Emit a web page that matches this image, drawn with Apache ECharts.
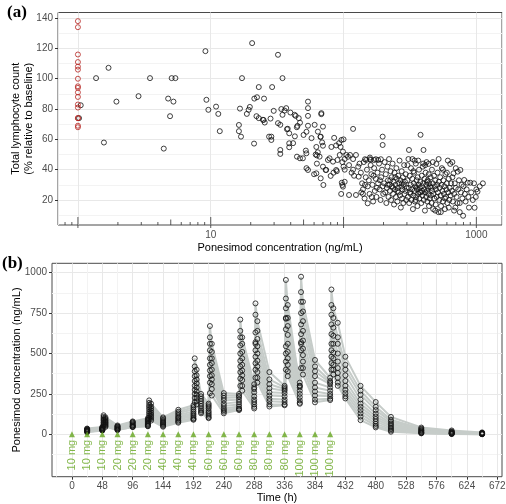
<!DOCTYPE html>
<html><head><meta charset="utf-8">
<script src="https://cdn.jsdelivr.net/npm/echarts@6/dist/echarts.min.js"></script>
<style>html,body{margin:0;padding:0;background:#fff}#c{width:506px;height:504px}</style>
</head><body><div id="c"></div>
<script>
// ---------- Panel (a): lymphocyte count vs concentration ----------
const blqConc = 1;
const blqLymph = [138,134,116,111,108,106,100,95,94,91,88,83,81,74,74,69,68];
const lymphLeft = [
 [1.05,82.5],[1.02,74],[1.37,100.4],[1.57,57.9],[1.70,107.2],[1.95,84.9],[2.86,88.5],[3.49,100.4],[4.43,53.9],
 [4.78,86.9],[4.94,75.3],[5.08,100.4],[5.24,84.9],[5.42,100.4],[9.12,118.2],[9.28,86.1],[9.6,79.5],[10.97,81.6],
 [11.4,76.8],[11.7,65.4],[16.3,69.5],[16.3,65.4],[16.6,80.3],[16.9,61.8],[17.2,100.4],[18.7,76.8],[19.3,79.5],
 [19.7,81.4],[20.5,123.5],[21.2,57.2],[21.3,86.9],[22.1,75.3],[23,94.5],[22.3,87.8],[23,74],[24.7,72.9],[25.5,71.1],
 [25.2,86.9],[27.5,61.8]
];
const lymphMid = [
 [32.1,115.8],[34.7,100.4],[29,94.5],[29.8,78.8],[34,80],[36,79],[37,80.6],[39.8,77.7],[42.8,76.2],[43.6,75.5],
 [46,74],[47,71],[25,72.8],[28.2,73.7],[32.1,70.7],[33.4,69.6],[34.7,76.2],[37.5,66.7],[39,64],[38,67],[43,62],
 [44.5,68],[54,84.9],[54,80.6],[54,75.5],[54,69],[68,76.6],[60.6,69.6],[64.1,65.1],[68.1,77.3],[70,68.4],[67.3,61.8],
 [57.4,60.8],[28.6,61.8],[28.6,59.6],[33.4,53],[33.4,50.4],[39,57.4],[39,54.8],[41.7,57.5],[44.6,48.6],[47,47.5],
 [49.4,47.5],[45,68.9],[50,62.9],[52.6,65],[52,52.6],[52.5,50.8],[52.6,41],[54,39.8],[62.4,37.6],[60,37],[62.4,55],
 [64,51.5],[63,49.4],[66,48.6],[61.7,50],[63,44],[67,61.6],[69,58],[70,55.8],[70,42],[73.4,39.8],[76.3,46.4],
 [78.5,47.5],[83.3,45.3],[90,46.4],[92.6,57.5],[96.4,59.6],[93.6,49.7],[99,51.9],[81,55],[85,61],[88,56],[100,60],
 [95,55],[67.3,34.3],[70.5,29.9],[74,39.8],[80,35.9],[84,38],[88,39.8],[89,39],[105,49.7],[112,49.7],[124,49.7],
 [102,47],[108,48.5],[118,47],[98,45],[102,40],[110,43],[115,38],[100,42],[120,36],[118,40],[98,29.9],[99,28.8],
 [96,24],[110,23.3],[124,23.3],[140,24],[97,31.4],[102,32],[129,42],[130,35.4],[152,17.8],[145,46.9],[158,46.9],
 [175,46.9],[191,46.9],[118,66.9],[197,61.8],[197,56.3],[148,46.4],[160,46.4],[170,46.4],[182,46.4]
];
const lymphDense = [
 [132,44],[135,38],[138,31],[140,27],[142,45],[144,21],[147,35],[150,40],[152,29],[155,33],[157,24],[160,43],[162,37],
 [165,30],[167,19],[170,41],[172,26],[175,34],[177,22],[180,38],[182,31],[185,44],[187,27],[190,20],[192,35],[195,40],
 [197,29],[199,24],[136,25],[158,48],[168,36],[178,28],[188,33],[145,30],[163,22],
 [202,31],[204,45],[206,25],[208,37],[210,18],[212,28],[214,42],[216,33],[218,22],[220,47],[222,30],[224,26],[226,39],
 [228,20],[230,35],[232,29],[234,44],[236,24],[238,32],[240,17],[242,38],[244,27],[246,30],[248,22],[250,41],[252,34],
 [254,19],[256,28],[258,36],[260,25],[262,31],[264,46],[266,23],[268,33],[270,15],[272,29],[274,39],[276,21],[278,27],
 [280,35],[282,18],[284,30],[286,43],[288,24],[290,32],[292,26],[294,37],[296,20],[298,28],[215,30],[235,28],[255,26],
 [275,31],[245,35],[225,33],
 [302,33],[305,22],[308,47],[310,28],[312,18],[315,36],[318,25],[320,30],[322,41],[325,20],[328,27],[330,34],[333,14],
 [335,23],[338,31],[340,38],[342,26],[345,19],[348,29],[350,44],[352,22],[355,33],[358,27],[360,16],[362,35],[365,24],
 [368,30],[370,40],[372,21],[375,28],[378,32],[380,63],[382,25],[385,18],[388,36],[390,29],[392,23],[395,42],[398,31],
 [400,53],[402,20],[405,27],[408,34],[410,13],[412,25],[415,38],[418,22],[420,30],[422,45],[425,26],[428,19],[430,33],
 [432,28],[435,24],[438,37],[440,16],[442,31],[445,21],[448,29],[311,53],[330,47],[343,46],[365,46],[303,43],[336,39],
 [398,44],[412,43],[437,43.8],[320,24],[355,28],[390,26],[425,32],[350,20],[375,25],
 [452,35],[455,23],[458,28],[460,18],[463,40],[466,26],[470,31],[473,14],[476,24],[480,36],[483,21],[486,29],[490,33],
 [494,17],[497,27],[500,43.8],[503,22],[507,30],[510,38],[514,25],[518,12],[522,32],[526,20],[530,28],[534,35],[538,23],
 [542,16],[546,30],[550,41],[555,26],[560,19],[565,33],[570,24],[575,29],[580,14],[585,37],[590,22],[595,27],[600,31],
 [605,18],[610,46],[615,25],[620,34],[625,20],[630,28],[636,43.8],[640,23],[645,31],[470,45],[520,47],[560,40],[600,38],
 [490,13],[540,12],[580,21],[620,15],
 [655,26],[660,35],[665,19],[673,37.6],[680,24],[688,31],[695,15],[700,28],[710,22],[724,38.7],[730,27],[740,33],
 [750,18],[758,39.8],[765,25],[775,30],[785,21],[795,9.6],[800,29],[810,33.2],[820,24],[830,19],[845,27],[860,31.4],
 [870,22],[880,15],[900,31.4],[915,25],[700,41],[750,12],[680,13],[720,18],[660,45],
 [960,31],[970,14.9],[990,22],[1020,25.5],[1060,29],[1120,31],[940,20],[1000,27]
];
const logTicksLong = [1,10,100,1000];
const logTicksMid = [5,50,500];
const logTicksShort = [0.8,0.9,2,3,4,6,7,8,9,20,30,40,60,70,80,90,200,300,400,600,700,800,900];
const xLabelsA = [10,1000];
const yTicksA = [20,40,60,80,100,120,140];
const yMinorA = [10,30,50,70,90,110,130];

// ---------- Panel (b): concentration-time profiles ----------
const pkTimes = [24,48,50,53,72,96,120,122,125,144,168,192,194,197,204,216,218,221,240,264,266,269,288,290,293,312,336,338,341,360,362,365,384,408,410,413,420,432,456,480,504,552,600,648];
const pkSubj01 = [36,45,118,105,55,80,100,210,190,105,152,180,470,400,250,190,670,560,255,250,710,600,310,810,700,385,300,955,800,300,975,820,460,350,896,780,690,480,300,200,108,42,24,12];
const pkSubj02 = [33,41,108,96,50,76,92,195,172,98,140,168,420,365,235,180,600,510,240,238,640,560,290,740,640,340,290,840,720,320,880,760,420,330,800,720,600,430,270,170,90,35,18,9];
const pkSubj03 = [30,40,100,88,48,72,86,180,160,90,130,155,390,340,220,170,560,470,225,230,600,510,280,560,590,310,280,780,670,300,820,700,390,320,740,660,560,400,245,150,80,30,15,7];
const pkSubj04 = [28,37,92,82,44,66,80,168,148,83,120,142,360,315,205,160,520,440,210,215,550,470,260,630,545,285,270,715,615,290,750,640,360,310,680,610,500,365,215,128,68,25,12,6];
const pkSubj05 = [25,33,85,75,40,60,72,155,135,75,110,130,330,290,190,145,470,400,190,200,500,430,235,570,500,260,255,650,560,270,680,580,320,290,620,560,450,330,190,110,60,22,10,5];
const pkSubj06 = [23,31,76,70,37,56,66,140,125,70,102,120,300,265,175,135,430,365,175,185,455,395,215,520,455,240,235,720,510,250,620,530,290,270,560,505,410,300,170,95,50,17,8,4];
const pkSubj07 = [21,29,70,64,34,52,61,128,115,64,95,110,275,245,160,125,395,340,160,172,420,365,200,480,420,220,215,545,470,230,570,490,265,250,520,470,380,275,150,80,40,13,6,3];
const pkSubj08 = [19,27,62,58,31,48,56,115,105,58,86,100,250,225,148,115,360,310,150,160,385,335,185,440,385,205,200,500,430,210,520,450,240,235,480,430,350,255,130,65,32,10,4,2];
const pkSubj09 = [16,25,56,52,28,46,52,102,95,52,78,94,225,205,138,105,320,280,140,155,345,300,170,400,350,185,185,450,390,195,560,410,215,220,440,400,320,235,110,52,24,8,3,1];
const pkSubj10 = [13,24,50,46,26,45,50,92,85,47,72,90,200,185,130,100,255,240,130,150,300,270,160,350,320,172,180,400,360,189,410,370,198,212,400,370,300,222,88,43,16,6,2,0.5];
const pkSubjects = [pkSubj01,pkSubj02,pkSubj03,pkSubj04,pkSubj05,pkSubj06,pkSubj07,pkSubj08,pkSubj09,pkSubj10];
const doseTimes = [0,24,48,72,96,120,144,168,192,216,240,264,288,312,336,360,384,408];
const doseMg = [10,10,10,20,20,20,40,40,40,60,60,60,80,80,80,100,100,100];
const xTicksB = [0,48,96,144,192,240,288,336,384,432,480,528,576,624,672];
const xMinorB = [-24,24,72,120,168,216,264,312,360,408,456,504,552,600,648];
const yTicksB = [0,250,500,750,1000];
const yMinorB = [-125,125,375,625,875];

// ---------- build ----------
const FONT = '"Liberation Sans", Arial, sans-serif';
const GREEN = '#64a51e';
const GRID_MAJOR = '#e8e8e8';
const GRID_MINOR = '#f3f3f3';
const A_YMIN = 3.5, A_YMAX = 143.7;
const hollow = {color: 'rgba(0,0,0,0)', borderColor: '#111', borderWidth: 1};
const plain = v => String(v);

function minorAxis(grid, vals, min, max, pos) {
  return {
    gridIndex: grid, type: 'value', min: min, max: max, position: pos,
    axisLine: {show: false},
    axisTick: {show: false, customValues: vals},
    axisLabel: {show: false, customValues: vals},
    splitLine: {show: true, lineStyle: {color: GRID_MINOR, width: 1}}
  };
}

const lineSeries = pkSubjects.map((s, k) => ({
  type: 'line', xAxisIndex: 1, yAxisIndex: 1, symbol: 'none', z: 2,
  data: pkTimes.map((t, i) => [t, s[i]]),
  lineStyle: {color: '#c6ccc9', width: 2}
}));
const pkPoints = [];
pkSubjects.forEach(s => pkTimes.forEach((t, i) => pkPoints.push([t, s[i]])));

function tickSeries(vals, len, inside) {
  return {
    type: 'scatter', xAxisIndex: 0, yAxisIndex: 0, clip: false, silent: true, z: 5,
    symbol: 'rect', symbolSize: [1, len], symbolOffset: [0, -(inside - len / 2)],
    itemStyle: {color: '#333'},
    data: vals.map(v => [v, A_YMIN])
  };
}

const option = {
  animation: false,
  textStyle: {fontFamily: FONT},
  grid: [
    {left: 58, top: 12.5, width: 444, height: 212.5, show: true, borderColor: '#4a4a4a', borderWidth: 1, backgroundColor: 'rgba(0,0,0,0)', containLabel: false, outerBoundsMode: 'none'},
    {left: 52, top: 263.3, width: 450, height: 213.4, show: true, borderColor: '#4a4a4a', borderWidth: 1, backgroundColor: 'rgba(0,0,0,0)', containLabel: false, outerBoundsMode: 'none'}
  ],
  xAxis: [
    {gridIndex: 0, type: 'log', logBase: 10, min: 0.708, max: 1560,
     axisLine: {show: false, onZero: false}, axisTick: {show: false},
     axisLabel: {color: '#4d4d4d', fontSize: 10, margin: 5, fontFamily: FONT,
       formatter: v => { const r = Math.round(v); return (Math.abs(v - r) < 1e-6 && xLabelsA.includes(r)) ? String(r) : ''; }},
     splitLine: {show: true, lineStyle: {color: GRID_MAJOR, width: 1}},
     name: 'Ponesimod concentration (ng/mL)', nameLocation: 'middle', nameGap: 17, nameMoveOverlap: false,
     nameTextStyle: {color: '#000', fontSize: 11, fontFamily: FONT, verticalAlign: 'top'}},
    {gridIndex: 1, type: 'value', min: -31.5, max: 679.5,
     axisLine: {show: false, onZero: false},
     axisTick: {show: true, length: 3, customValues: xTicksB, lineStyle: {color: '#333'}},
     axisLabel: {color: '#4d4d4d', fontSize: 10, margin: 5, fontFamily: FONT, customValues: xTicksB, formatter: plain},
     splitLine: {show: true, lineStyle: {color: GRID_MAJOR, width: 1}},
     name: 'Time (h)', nameLocation: 'middle', nameGap: 16, nameMoveOverlap: false,
     nameTextStyle: {color: '#000', fontSize: 11, fontFamily: FONT, verticalAlign: 'top'}},
    minorAxis(1, xMinorB, -31.5, 679.5, 'top')
  ],
  yAxis: [
    {gridIndex: 0, type: 'value', min: A_YMIN, max: A_YMAX,
     axisLine: {show: false, onZero: false},
     axisTick: {show: true, length: 3, customValues: yTicksA, lineStyle: {color: '#333'}},
     axisLabel: {color: '#4d4d4d', fontSize: 10, margin: 5, fontFamily: FONT, customValues: yTicksA, formatter: plain},
     splitLine: {show: true, lineStyle: {color: GRID_MAJOR, width: 1}},
     name: 'Total lymphocyte count\n(% relative to baseline)', nameLocation: 'middle', nameGap: 23, nameMoveOverlap: false,
     nameTextStyle: {color: '#000', fontSize: 11, fontFamily: FONT, lineHeight: 13}},
    {gridIndex: 1, type: 'value', min: -262, max: 1058,
     axisLine: {show: false, onZero: false},
     axisTick: {show: true, length: 3, customValues: yTicksB, lineStyle: {color: '#333'}},
     axisLabel: {color: '#4d4d4d', fontSize: 10, margin: 5, fontFamily: FONT, customValues: yTicksB, formatter: plain},
     splitLine: {show: true, lineStyle: {color: GRID_MAJOR, width: 1}},
     name: 'Ponesimod concentration (ng/mL)', nameLocation: 'middle', nameGap: 30, nameMoveOverlap: false,
     nameTextStyle: {color: '#000', fontSize: 11, fontFamily: FONT}},
    minorAxis(0, yMinorA, A_YMIN, A_YMAX, 'right'),
    minorAxis(1, yMinorB, -262, 1058, 'right')
  ],
  series: [
    tickSeries(logTicksLong, 11, 8),
    tickSeries(logTicksMid, 5.5, 5.5),
    tickSeries(logTicksShort, 3, 3),
    {type: 'scatter', xAxisIndex: 0, yAxisIndex: 0, symbol: 'circle', symbolSize: 5, z: 3,
     itemStyle: hollow, data: lymphLeft.concat(lymphMid, lymphDense)},
    {type: 'scatter', xAxisIndex: 0, yAxisIndex: 0, symbol: 'circle', symbolSize: 5, z: 4,
     itemStyle: {color: 'rgba(0,0,0,0)', borderColor: '#b5231f', borderWidth: 1},
     data: blqLymph.map(v => [blqConc, v])},
    ...lineSeries,
    {type: 'scatter', xAxisIndex: 1, yAxisIndex: 1, symbol: 'circle', symbolSize: 5, z: 4,
     itemStyle: hollow, data: pkPoints},
    {type: 'scatter', xAxisIndex: 1, yAxisIndex: 1, symbol: 'triangle', symbolSize: 6, z: 4,
     itemStyle: {color: GREEN}, data: doseTimes.map(t => [t, 0])},
    {type: 'scatter', xAxisIndex: 1, yAxisIndex: 1, symbolSize: 0, z: 4, clip: false,
     data: doseTimes.map((t, i) => ({value: [t, -34], name: doseMg[i] + ' mg'})),
     label: {show: true, position: 'inside', rotate: 90, align: 'right', verticalAlign: 'middle',
       formatter: p => p.name, color: GREEN, fontSize: 11, fontFamily: FONT}}
  ],
  graphic: [
    {type: 'text', left: 7, top: 4, style: {text: '(a)', fontSize: 17, fontWeight: 'bold', fontFamily: '"Liberation Serif", "DejaVu Serif", serif', fill: '#000'}},
    {type: 'text', left: 2, top: 255, style: {text: '(b)', fontSize: 17, fontWeight: 'bold', fontFamily: '"Liberation Serif", "DejaVu Serif", serif', fill: '#000'}}
  ]
};
const chart = echarts.init(document.getElementById('c'), null, {renderer: 'canvas'});
chart.setOption(option);
</script></body></html>
